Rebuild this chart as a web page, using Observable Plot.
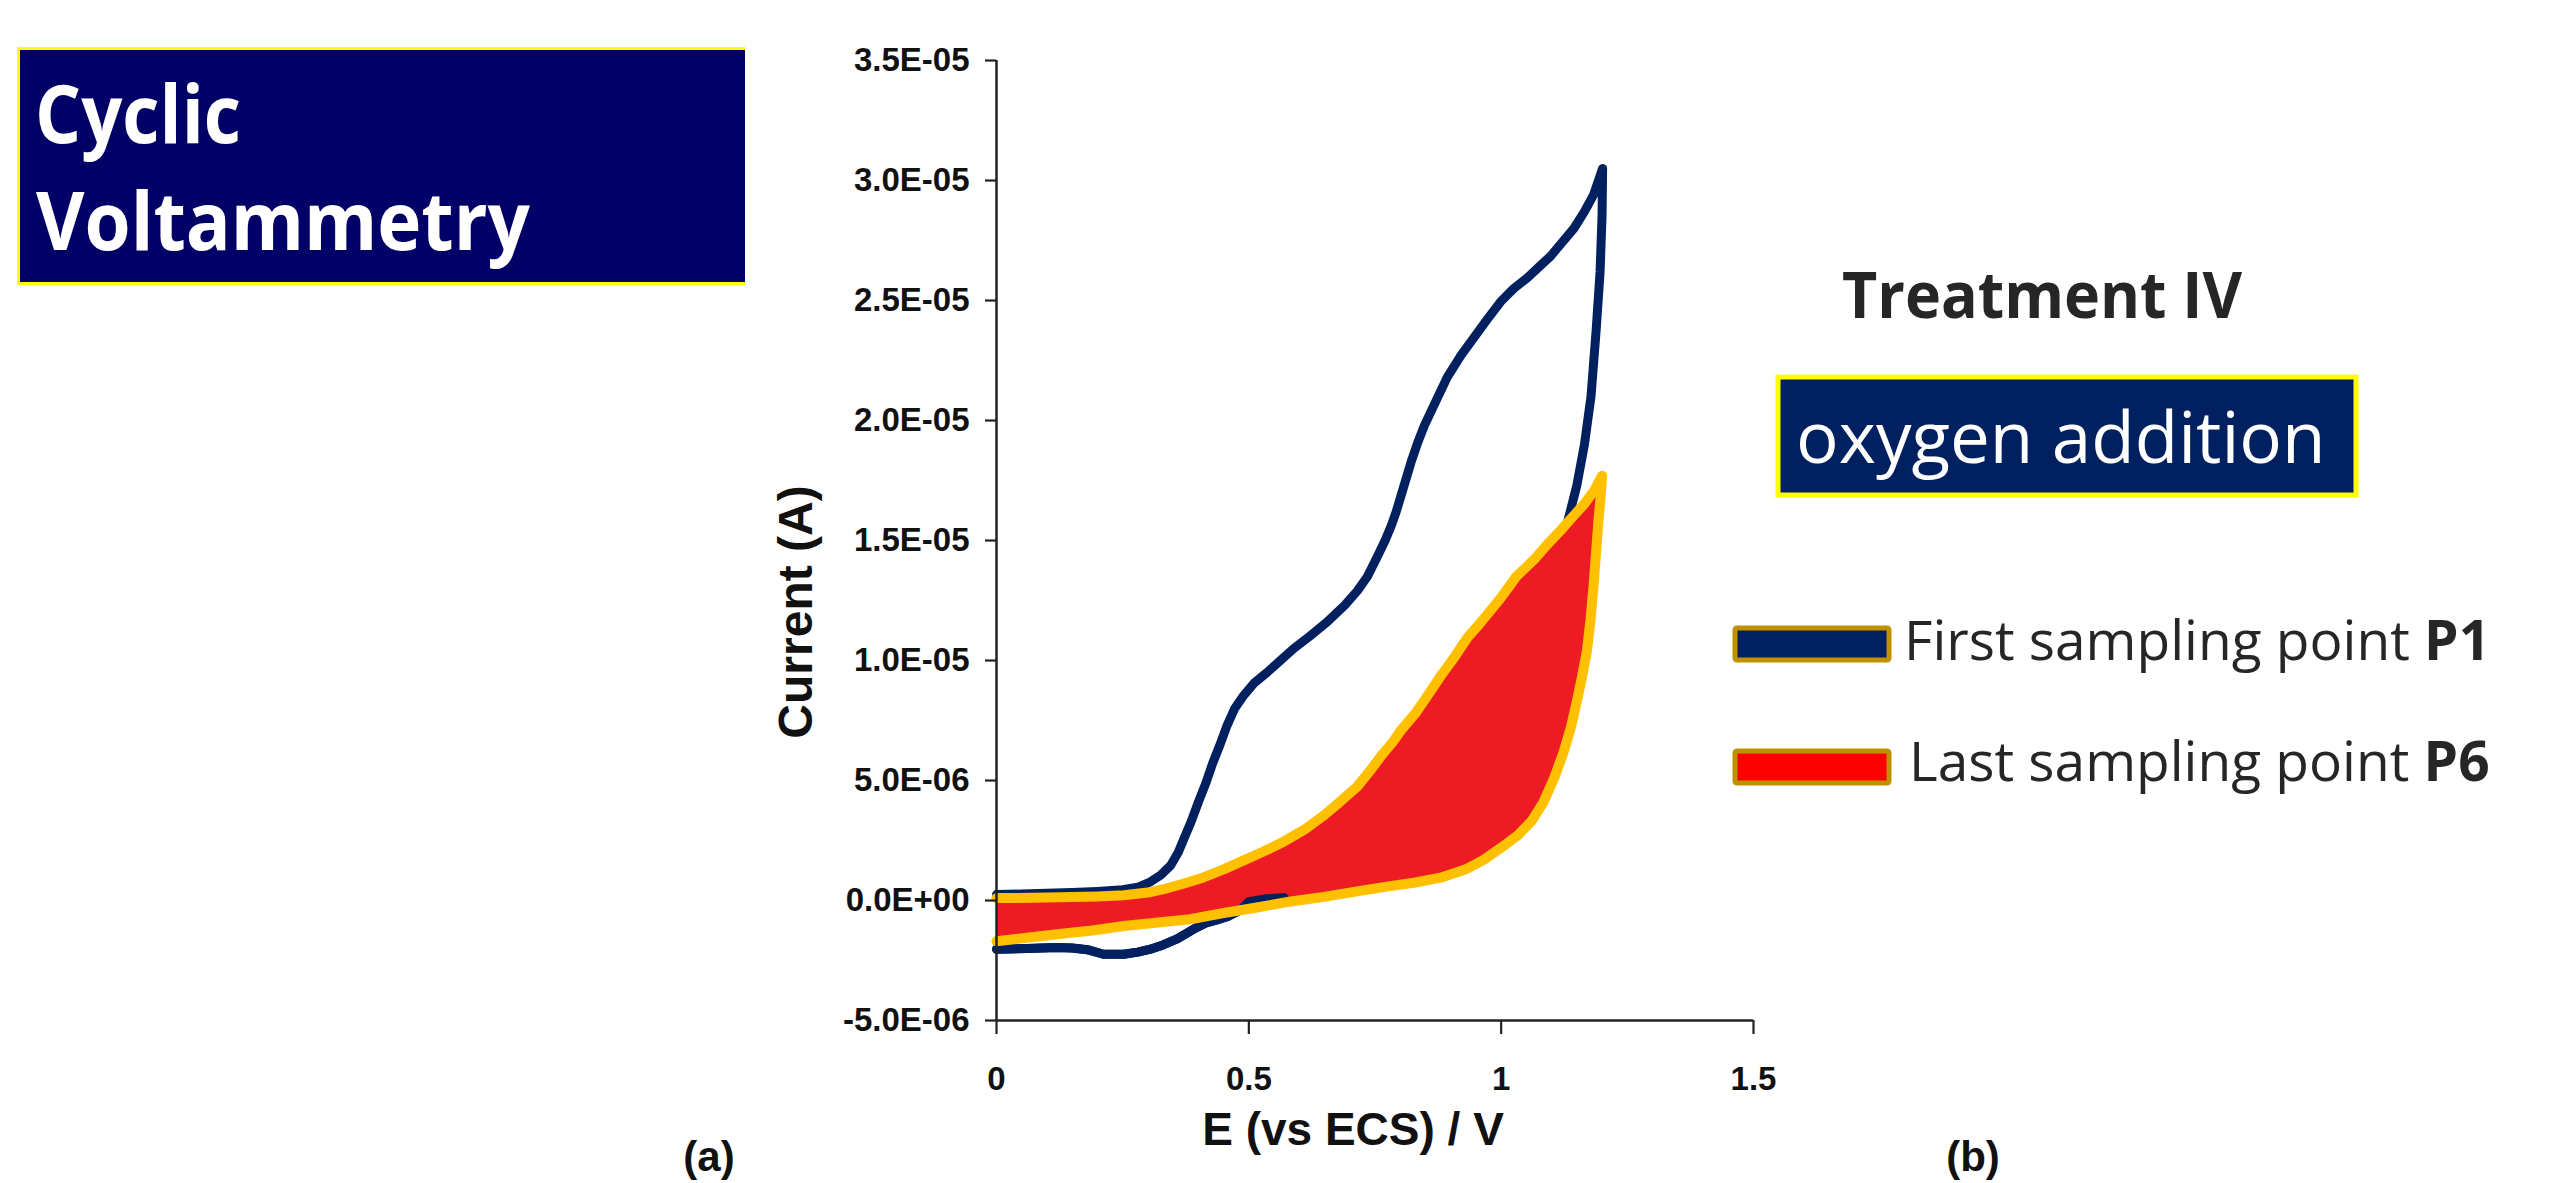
<!DOCTYPE html>
<html><head><meta charset="utf-8">
<script src="https://cdn.jsdelivr.net/npm/d3@7"></script>
<script src="https://cdn.jsdelivr.net/npm/@observablehq/plot@0.6"></script>
<style>
html,body{margin:0;padding:0;background:#fff;}
#wrap{position:relative;width:2552px;height:1183px;overflow:hidden;background:#fff;}
#wrap svg{position:absolute;left:0;top:0;}
</style></head><body><div id="wrap"></div>
<script>
// ---- data (E in V, current in µA) ----
const p1E = [0,0.05,0.10,0.15,0.20,0.25,0.28,0.305,0.325,0.345,0.36,0.372,0.386,0.40,0.415,0.428,0.443,0.457,0.472,0.49,0.51,0.536,0.56,0.589,0.62,0.655,0.69,0.715,0.735,0.754,0.77,0.782,0.792,0.802,0.812,0.822,0.835,0.848,0.866,0.893,0.92,0.946,0.972,0.999,1.025,1.052,1.075,1.098,1.12,1.144,1.165,1.183,1.201,
  1.2,1.196,1.188,1.178,1.165,1.15,1.132,1.118,1.103,1.085,1.06,1.03,1.0,0.95,0.9,0.85,0.8,0.75,0.7,0.65,0.6,0.57,0.53,0.50,0.483,0.46,0.435,0.417,0.39,0.358,0.33,0.305,0.28,0.252,0.212,0.18,0.15,0.12,0.06,0.0];
const p1I = [0.25,0.27,0.3,0.33,0.38,0.45,0.55,0.78,1.05,1.46,2.0,2.6,3.3,4.1,4.9,5.7,6.5,7.3,8.0,8.55,9.05,9.5,9.95,10.5,11.0,11.6,12.3,12.9,13.5,14.3,15.0,15.6,16.2,16.9,17.6,18.3,19.1,19.8,20.6,21.8,22.7,23.45,24.2,24.95,25.5,25.95,26.4,26.85,27.4,28.0,28.7,29.4,30.5,
  28.6,26.2,23.7,21.0,19.0,17.3,15.8,13.5,11.0,8.6,6.3,4.8,3.8,2.6,1.9,1.45,1.05,0.75,0.55,0.38,0.22,0.12,0.06,-0.05,-0.4,-0.65,-0.82,-0.92,-1.2,-1.6,-1.85,-2.03,-2.15,-2.24,-2.24,-2.05,-1.98,-1.96,-2.0,-2.03];
const p6E = [0,0.1,0.2,0.252,0.3,0.331,0.37,0.41,0.45,0.49,0.53,0.569,0.61,0.649,0.68,0.715,0.74,0.765,0.785,0.80,0.83,0.853,0.88,0.906,0.933,0.96,0.999,1.03,1.065,1.09,1.117,1.14,1.164,1.185,1.2,
  1.197,1.193,1.188,1.183,1.177,1.17,1.16,1.15,1.138,1.124,1.105,1.084,1.06,1.032,1.0,0.966,0.93,0.88,0.83,0.78,0.72,0.649,0.58,0.516,0.45,0.384,0.32,0.252,0.19,0.12,0.06,0.0];
const p6I = [0.1,0.12,0.17,0.22,0.33,0.47,0.7,0.96,1.3,1.67,2.05,2.45,2.95,3.55,4.1,4.75,5.4,6.1,6.6,7.05,7.8,8.5,9.35,10.1,10.95,11.6,12.6,13.5,14.2,14.8,15.4,15.95,16.5,17.1,17.7,
  16.8,15.9,14.5,13.1,11.7,10.4,9.3,8.3,7.2,6.2,5.1,4.1,3.3,2.7,2.2,1.7,1.3,0.95,0.75,0.6,0.4,0.15,-0.05,-0.29,-0.52,-0.78,-0.92,-1.06,-1.25,-1.41,-1.55,-1.7];

const xTicks = [0, 0.5, 1, 1.5];
const xTickLabels = ["0", "0.5", "1", "1.5"];
const yTicks = [-5, 0, 5, 10, 15, 20, 25, 30, 35];
const yTickLabels = ["-5.0E-06", "0.0E+00", "5.0E-06", "1.0E-05", "1.5E-05", "2.0E-05", "2.5E-05", "3.0E-05", "3.5E-05"];
const seriesNames = ["First sampling point ", "Last sampling point "];
const seriesTags = ["P1", "P6"];

// ---- build tables ----
const p1 = p1E.map((E, i) => ({E, I: p1I[i]}));
const p6 = p6E.map((E, i) => ({E, I: p6I[i]}));
const peak = p1I.indexOf(d3.max(p1I));
const tailStart = p1.findIndex((d, i) => i > peak && d.E <= 0.575);
const p1Tail = p1.slice(tailStart);
const xLab = new Map(xTicks.map((t, i) => [t, xTickLabels[i]]));
const yLab = new Map(yTicks.map((t, i) => [t, yTickLabels[i]]));

const NAVY = "#00205f", RED = "#ed1c24", GOLD = "#ffc000";

const chart = Plot.plot({
  width: 2552, height: 1183,
  marginLeft: 996, marginRight: 799, marginTop: 60, marginBottom: 163,
  style: {fontFamily: "'Liberation Sans', Arial, sans-serif", background: "transparent", color: "#111", overflow: "visible"},
  x: {domain: [0, 1.5]},
  y: {domain: [-5, 35]},
  marks: [
    Plot.line(p1, {x: "E", y: "I", stroke: NAVY, strokeWidth: 9, strokeLinejoin: "round"}),
    Plot.line(p6, {x: "E", y: "I", fill: RED, stroke: "none"}),
    Plot.line(p1Tail, {x: "E", y: "I", stroke: NAVY, strokeWidth: 9, strokeLinejoin: "round"}),
    Plot.line(p6, {x: "E", y: "I", stroke: GOLD, strokeWidth: 10, strokeLinejoin: "round"}),
    Plot.ruleX([0], {stroke: "#222", strokeWidth: 2.5}),
    Plot.ruleY([-5], {stroke: "#222", strokeWidth: 2.5}),
    Plot.axisY({ticks: yTicks, tickFormat: d => yLab.get(d), tickSize: 11, tickPadding: 16, fontSize: 33, fontWeight: "bold", label: null, strokeWidth: 2.2, stroke: "#222"}),
    Plot.axisX({ticks: xTicks, tickFormat: d => xLab.get(d), tickSize: 14, tickPadding: 32, fontSize: 33, fontWeight: "bold", label: null, strokeWidth: 2.2, stroke: "#222"}),
    Plot.text(["E (vs ECS) / V"], {frameAnchor: "bottom", dx: -22, dy: 124, fontSize: 46, fontWeight: "bold", fill: "#111"})
  ]
});
const wrap = document.getElementById("wrap");
wrap.appendChild(chart);

// ---- annotations overlay ----
const ov = d3.create("svg").attr("width", 2552).attr("height", 1183).style("pointer-events", "none");
const OS = "'Open Sans', 'Noto Sans', sans-serif";
// y axis title
ov.append("text").attr("transform", "translate(795,612) rotate(-90)").attr("dy", "0.36em").attr("text-anchor", "middle")
  .attr("font-family", "'Liberation Sans', Arial, sans-serif").attr("font-weight", 700).attr("font-size", 48).attr("fill", "#111").text("Current (A)");
// title box (cut at the right)
ov.append("rect").attr("x", 17).attr("y", 47).attr("width", 728).attr("height", 238).attr("fill", "#000066");
ov.append("path").attr("d", "M745,48.5 H18.5 V283.5 H745").attr("fill", "none").attr("stroke", "#ffff00").attr("stroke-width", 3);
ov.append("text").attr("x", 35).attr("y", 143).attr("font-family", OS).attr("font-weight", 700).attr("font-size", 80)
  .attr("textLength", 206).attr("lengthAdjust", "spacingAndGlyphs").attr("fill", "#fff").text("Cyclic");
ov.append("text").attr("x", 36).attr("y", 250).attr("font-family", OS).attr("font-weight", 700).attr("font-size", 80)
  .attr("textLength", 494).attr("lengthAdjust", "spacingAndGlyphs").attr("fill", "#fff").text("Voltammetry");
// treatment
ov.append("text").attr("x", 1842).attr("y", 318).attr("font-family", OS).attr("font-weight", 700).attr("font-size", 64)
  .attr("textLength", 400).attr("lengthAdjust", "spacingAndGlyphs").attr("fill", "#262626").text("Treatment IV");
ov.append("rect").attr("x", 1778).attr("y", 377).attr("width", 578).attr("height", 118).attr("fill", "#002060").attr("stroke", "#ffff00").attr("stroke-width", 5);
ov.append("text").attr("x", 1796).attr("y", 463).attr("font-family", OS).attr("font-size", 71).attr("fill", "#fff").text("oxygen addition");
// legend
const legFill = [NAVY, "#ff0000"];
const legY = [628, 751];
const legBase = [660, 781];
const legX = [1904, 1909];
legFill.forEach((c, i) => {
  ov.append("rect").attr("x", 1735).attr("y", legY[i]).attr("width", 154).attr("height", 32).attr("rx", 2)
    .attr("fill", c).attr("stroke", "#bf9000").attr("stroke-width", 5);
  const t = ov.append("text").attr("x", legX[i]).attr("y", legBase[i]).attr("font-family", OS).attr("font-size", 55).attr("fill", "#262626");
  t.append("tspan").text(seriesNames[i]);
  t.append("tspan").attr("font-weight", 700).text(seriesTags[i]);
});
// panel labels
[["(a)", 709], ["(b)", 1973]].forEach(([s, x]) => {
  ov.append("text").attr("x", x).attr("y", 1171).attr("text-anchor", "middle").attr("font-family", "'Liberation Sans', Arial, sans-serif")
    .attr("font-weight", 700).attr("font-size", 42).attr("fill", "#111").text(s);
});
wrap.appendChild(ov.node());
</script></body></html>
